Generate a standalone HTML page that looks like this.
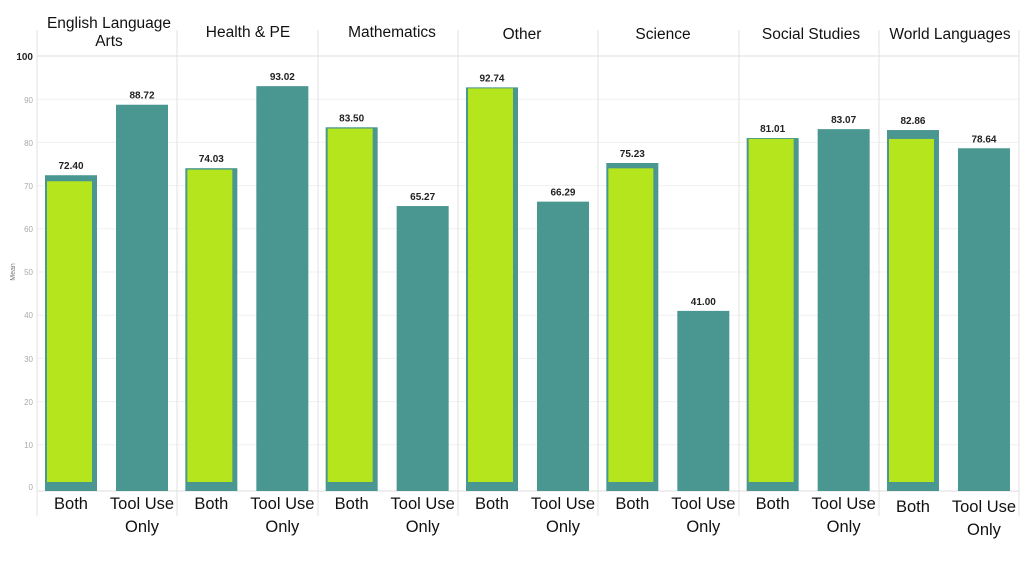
<!DOCTYPE html>
<html><head><meta charset="utf-8"><style>
body{margin:0;background:#fff;width:1024px;height:576px;overflow:hidden}
svg{display:block}
.t{font-family:"Liberation Sans",sans-serif;font-size:15.5px;fill:#111;text-anchor:middle}
.b{font-family:"Liberation Sans",sans-serif;font-size:16.5px;fill:#111;text-anchor:middle}
.v{font-family:"Liberation Sans",sans-serif;font-size:10px;font-weight:bold;fill:#222;text-anchor:middle}
.y{font-family:"Liberation Sans",sans-serif;font-size:8px;fill:#aaa;text-anchor:end}
</style></head><body>
<svg width="1024" height="576" xmlns="http://www.w3.org/2000/svg">
<g stroke="#f0f0f0" stroke-width="1">
<line x1="37" x2="1019" y1="99.2" y2="99.2"/><line x1="37" x2="1019" y1="142.4" y2="142.4"/>
<line x1="37" x2="1019" y1="185.6" y2="185.6"/><line x1="37" x2="1019" y1="228.8" y2="228.8"/>
<line x1="37" x2="1019" y1="272" y2="272"/><line x1="37" x2="1019" y1="315.2" y2="315.2"/>
<line x1="37" x2="1019" y1="358.4" y2="358.4"/><line x1="37" x2="1019" y1="401.6" y2="401.6"/>
<line x1="37" x2="1019" y1="444.8" y2="444.8"/>
</g>
<line x1="37" x2="1019" y1="56" y2="56" stroke="#ddd"/>
<line x1="37" x2="1019" y1="491" y2="491" stroke="#ddd"/>
<g stroke="#e2e2e2">
<line x1="37" x2="37" y1="30" y2="516"/><line x1="177" x2="177" y1="30" y2="516"/>
<line x1="318" x2="318" y1="30" y2="516"/><line x1="458" x2="458" y1="30" y2="516"/>
<line x1="598" x2="598" y1="30" y2="516"/><line x1="739" x2="739" y1="30" y2="516"/>
<line x1="879" x2="879" y1="30" y2="516"/><line x1="1019" x2="1019" y1="30" y2="516"/>
</g>
<text x="33" y="60" class="y" style="font-size:10px;font-weight:bold;fill:#222">100</text>
<text x="33" y="103" class="y">90</text><text x="33" y="146" class="y">80</text>
<text x="33" y="189" class="y">70</text><text x="33" y="232" class="y">60</text>
<text x="33" y="275" class="y">50</text><text x="33" y="318" class="y">40</text>
<text x="33" y="362" class="y">30</text><text x="33" y="405" class="y">20</text>
<text x="33" y="448" class="y">10</text><text x="33" y="490" class="y">0</text>
<text transform="translate(15,272) rotate(-90)" class="y" style="text-anchor:middle;fill:#777;font-size:7px">Mean</text>
<g id="bars"></g>
<text x="109" y="28" class="t">English Language</text><text x="109" y="46" class="t">Arts</text>
<text x="248" y="37" class="t">Health &amp; PE</text>
<text x="392" y="37" class="t">Mathematics</text>
<text x="522" y="39" class="t">Other</text>
<text x="663" y="39" class="t">Science</text>
<text x="811" y="39" class="t">Social Studies</text>
<text x="950" y="39" class="t">World Languages</text>
</svg>
<script>
const d=[[72.4,88.72,71],[74.03,93.02,73.7],[83.5,65.27,83.2],[92.74,66.29,92.5],[75.23,41.0,74],[81.01,83.07,80.8],[82.86,78.64,80.8]];
const S="http://www.w3.org/2000/svg",g=document.getElementById('bars'),svg=g.ownerSVGElement;
function el(t,a,txt){const e=document.createElementNS(S,t);for(const k in a)e.setAttribute(k,a[k]);if(txt)e.textContent=txt;return e;}
const Y=v=>488-v*4.32;
d.forEach((r,i)=>{const x0=37+i*140.33;
g.appendChild(el('rect',{x:x0+8,y:Y(r[0]),width:52,height:491-Y(r[0]),fill:'#4a9690'}));
g.appendChild(el('rect',{x:x0+10,y:Y(r[2]),width:45,height:482-Y(r[2]),fill:'#b5e61d'}));
g.appendChild(el('rect',{x:x0+79,y:Y(r[1]),width:52,height:491-Y(r[1]),fill:'#4a9690'}));
g.appendChild(el('text',{x:x0+34,y:Y(r[0])-6,class:'v'},r[0].toFixed(2)));
g.appendChild(el('text',{x:x0+105,y:Y(r[1])-6,class:'v'},r[1].toFixed(2)));
const o=i==6?3:0;
g.appendChild(el('text',{x:x0+34,y:509+o,class:'b'},'Both'));
g.appendChild(el('text',{x:x0+105,y:509+o,class:'b'},'Tool Use'));
g.appendChild(el('text',{x:x0+105,y:532+o,class:'b'},'Only'));
});
</script>
</body></html>
